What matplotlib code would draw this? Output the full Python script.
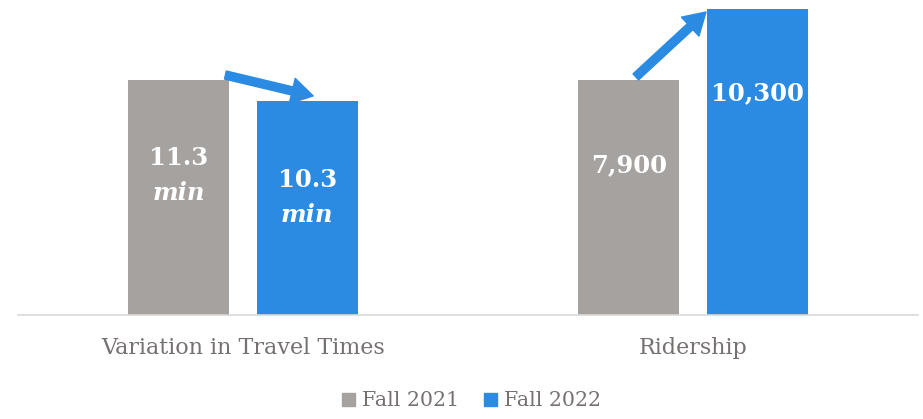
import numpy as np
import matplotlib.pyplot as plt
from matplotlib.patches import Patch

categories = ['Variation in Travel Times', 'Ridership']
series_names = ['Fall 2021', 'Fall 2022']
fall_2021 = [11.3, 7900]
fall_2022 = [10.3, 10300]
labels_2021 = ['11.3', '7,900']
labels_2022 = ['10.3', '10,300']
units = ['min', '']

gray = '#A6A2A0'
blue = '#2B8BE2'
text_gray = '#767171'

plt.rcParams['font.family'] = ['DejaVu Serif']

# each group is shown relative to its Fall 2021 value
base = np.array(fall_2021, dtype=float)
h21 = np.array(fall_2021) / base
h22 = np.array(fall_2022) / base

fig = plt.figure(figsize=(9.23, 4.19), dpi=100)
ax = fig.add_axes([0.0195, 0.248, 0.975, 0.752])

x = np.arange(len(categories))
w = 0.224
off = 0.1426
ax.bar(x - off, h21, w, color=gray)
ax.bar(x + off, h22, w, color=blue)


def bar_label(xc, y, num, unit):
    # number in bold, unit on the next line in bold italic
    ax.text(xc, y, num, ha='center', va='center', color='white',
            fontsize=17.5, fontweight='bold')
    if unit:
        ax.text(xc, y - 0.149, unit, ha='center', va='center', color='white',
                fontsize=17.5, fontweight='bold', fontstyle='italic')


# label heights as a share of each bar
pos21 = [0.668, 0.638]
pos22 = [0.63, 0.725]
for i in range(len(categories)):
    bar_label(x[i] - off, h21[i] * pos21[i], labels_2021[i], units[i])
    bar_label(x[i] + off, h22[i] * pos22[i], labels_2022[i], units[i])

# change arrows between the two years
arrow = dict(arrowstyle='simple,head_length=1.0,head_width=1.2,tail_width=0.38',
             color=blue, mutation_scale=15.5, shrinkA=0, shrinkB=0)
ax.annotate('', xy=(0.156, 0.932), xytext=(-0.039, 1.021), arrowprops=arrow)
ax.annotate('', xy=(1.029, h22[1] - 0.015), xytext=(0.873, 1.013), arrowprops=arrow)

ax.set_xlim(-0.5, 1.5)
ax.set_ylim(0, 1.34)
ax.set_yticks([])
ax.set_xticks(x)
ax.set_xticklabels(categories, fontsize=16, color=text_gray)
ax.tick_params(axis='x', length=0, pad=16)
for s in ['top', 'right', 'left']:
    ax.spines[s].set_visible(False)
ax.spines['bottom'].set_color('#D9D9D9')
ax.spines['bottom'].set_linewidth(1.2)

handles = [Patch(color=gray), Patch(color=blue)]
fig.legend(handles, series_names, loc='center', bbox_to_anchor=(0.511, 0.043),
           ncol=2, frameon=False, fontsize=14.8, labelcolor=text_gray,
           handlelength=0.62, handleheight=0.62, handletextpad=0.35, columnspacing=1.2)

fig.savefig('out.png', dpi=100)
